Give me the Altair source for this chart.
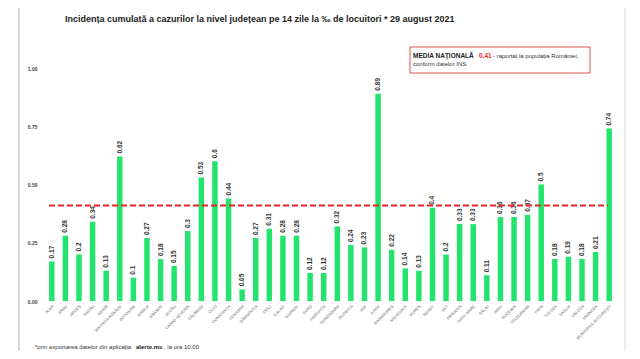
import altair as alt
import pandas as pd

counties = ["ALBA", "ARAD", "ARGEȘ", "BACĂU", "BIHOR", "BISTRIȚA-NĂSĂUD", "BOTOȘANI",
            "BRĂILA", "BRAȘOV", "BUZĂU", "CARAȘ-SEVERIN", "CĂLĂRAȘI", "CLUJ", "CONSTANȚA",
            "COVASNA", "DÂMBOVIȚA", "DOLJ", "GALAȚI", "GIURGIU", "GORJ", "HARGHITA",
            "HUNEDOARA", "IALOMIȚA", "IAȘI", "ILFOV", "MARAMUREȘ", "MEHEDINȚI", "MUREȘ",
            "NEAMȚ", "OLT", "PRAHOVA", "SATU MARE", "SĂLAJ", "SIBIU", "SUCEAVA",
            "TELEORMAN", "TIMIȘ", "TULCEA", "VASLUI", "VÂLCEA", "VRANCEA",
            "MUNICIPIUL BUCUREȘTI"]
values = [0.17, 0.28, 0.2, 0.34, 0.13, 0.62, 0.1, 0.27, 0.18, 0.15, 0.3, 0.53, 0.6, 0.44,
          0.05, 0.27, 0.31, 0.28, 0.28, 0.12, 0.12, 0.32, 0.24, 0.23, 0.89, 0.22, 0.14, 0.13,
          0.4, 0.2, 0.33, 0.33, 0.11, 0.36, 0.36, 0.37, 0.5, 0.18, 0.19, 0.18, 0.21, 0.74]
national_avg = 0.41
y_ticks = [0, 0.25, 0.5, 0.75, 1.0]

title_text = "Incidența cumulată a cazurilor la nivel județean pe 14 zile la ‰ de locuitori * 29 august 2021"
box_bold = "MEDIA NAȚIONALĂ"
box_value = "0,41"
box_rest = "- raportat la populația României,"
box_line2 = "conform datelor INS"
foot_a = "*prin exportarea datelor din aplicația"
foot_b = "alerte.ms"
foot_c = ", la ora 10.00"

df = pd.DataFrame({"county": counties, "value": values,
                   "label": [str(v) for v in values]})

FONT = "Liberation Sans"

x_enc = alt.X("county:N", sort=counties, title=None,
              scale=alt.Scale(paddingInner=0.6, paddingOuter=0.3),
              axis=alt.Axis(labelAngle=-45, labelFontSize=4, labelColor="#666",
                            ticks=False, domain=False, labelPadding=3,
                            labelFont=FONT, labelLimit=60))
y_enc = alt.Y("value:Q", title=None,
              scale=alt.Scale(domain=[0, 1]),
              axis=alt.Axis(values=y_ticks, format=".2f", grid=False, ticks=False,
                            domain=False, labelFontSize=5, labelColor="#444",
                            labelFontWeight="bold", labelPadding=8, labelFont=FONT))

base = alt.Chart(df)
bars = base.mark_bar(color="#22e36b").encode(x=x_enc, y=y_enc)
labels = base.mark_text(angle=270, align="left", baseline="middle", dx=3,
                        fontSize=6.5, fontWeight="bold", color="#333", font=FONT).encode(
    x=alt.X("county:N", sort=counties), y="value:Q", text="label:N")

avg = alt.Chart(pd.DataFrame({"v": [national_avg]})).mark_rule(
    color="#e3262b", strokeWidth=2, strokeDash=[6, 3]).encode(
    y="v:Q", x=alt.value(4), x2=alt.value(563))

def txt(s, x, y, size, weight="normal", color="#222", align="left"):
    return alt.Chart(pd.DataFrame({"t": [s]})).mark_text(
        align=align, baseline="middle", fontSize=size, fontWeight=weight,
        color=color, font=FONT).encode(x=alt.value(x), y=alt.value(y), text="t:N")

frame_l = alt.Chart(pd.DataFrame({"a": [0]})).mark_rule(color="#c8c8c8", strokeWidth=1.5).encode(
    x=alt.value(-26), y=alt.value(-60), y2=alt.value(283))
frame_r = alt.Chart(pd.DataFrame({"a": [0]})).mark_rule(color="#d8d8d8", strokeWidth=1).encode(
    x=alt.value(580), y=alt.value(-60), y2=alt.value(283))

box = alt.Chart(pd.DataFrame({"a": [0]})).mark_rect(
    fill="white", stroke="#d9534f", strokeWidth=1).encode(
    x=alt.value(365), x2=alt.value(545), y=alt.value(-21), y2=alt.value(5))

chart = alt.layer(
    frame_l, frame_r, bars, labels, avg, box,
    txt(title_text, 20, -49, 9, "bold", "#222"),
    txt(box_bold, 368, -12, 6.5, "bold", "#222"),
    txt(box_value, 434, -12, 6.5, "bold", "#e3262b"),
    txt(box_rest, 448, -12, 6, "normal", "#333"),
    txt(box_line2, 368, -4, 6, "normal", "#333"),
    txt(foot_a, -10, 279, 6, "normal", "#333"),
    txt(foot_b, 91, 279, 6, "bold", "#222"),
    txt(foot_c, 119, 279, 6, "normal", "#333"),
).properties(
    width=571, height=233,
    padding={"left": 37, "top": 60, "right": 16, "bottom": 50},
    autosize=alt.AutoSizeParams(type="none"),
    background="white",
).configure_view(stroke=None)

chart.save("out.html", embed_options={"renderer": "svg", "actions": False})
